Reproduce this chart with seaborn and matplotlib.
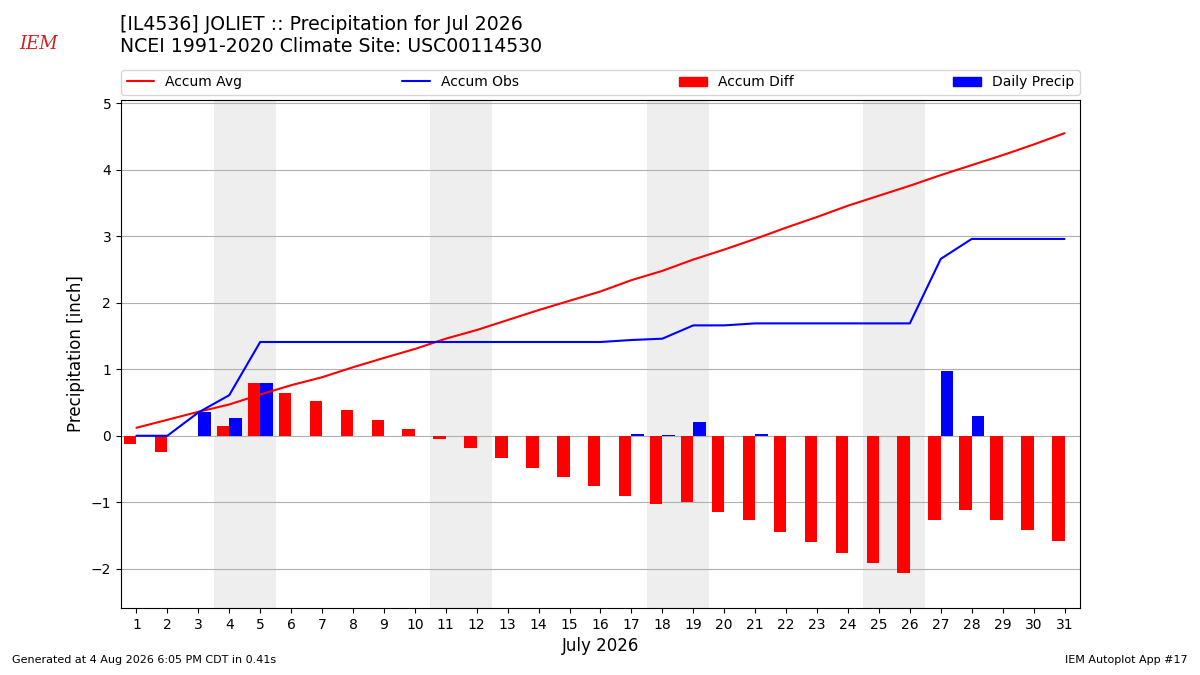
"""Monthly precipitation plot: accumulated average vs observed, daily bars."""

import datetime

import matplotlib

matplotlib.use("Agg")
import matplotlib.pyplot as plt
import pandas as pd
import seaborn as sns
from matplotlib.patches import Patch
from matplotlib.lines import Line2D

YEAR, MONTH = 2026, 7
days = list(range(1, 32))
accum_avg = [0.12, 0.24, 0.36, 0.47, 0.62, 0.76, 0.88, 1.03, 1.17, 1.305,
             1.46, 1.59, 1.74, 1.89, 2.03, 2.17, 2.34, 2.48, 2.65, 2.80,
             2.96, 3.13, 3.29, 3.46, 3.61, 3.76, 3.92, 4.07, 4.22, 4.38, 4.55]
accum_obs = [0.0, 0.0, 0.35, 0.61, 1.41, 1.41, 1.41, 1.41, 1.41, 1.41,
             1.41, 1.41, 1.41, 1.41, 1.41, 1.41, 1.44, 1.46, 1.66, 1.66,
             1.69, 1.69, 1.69, 1.69, 1.69, 1.69, 2.66, 2.96, 2.96, 2.96, 2.96]
accum_diff = [-0.12, -0.24, -0.01, 0.14, 0.79, 0.65, 0.53, 0.38, 0.24, 0.105,
              -0.05, -0.18, -0.33, -0.48, -0.62, -0.76, -0.90, -1.02, -0.99, -1.14,
              -1.27, -1.44, -1.60, -1.77, -1.92, -2.07, -1.26, -1.11, -1.26, -1.42, -1.59]
daily_precip = [0.0, 0.0, 0.35, 0.26, 0.80, 0.0, 0.0, 0.0, 0.0, 0.0,
                0.0, 0.0, 0.0, 0.0, 0.0, 0.0, 0.03, 0.015, 0.20, 0.0,
                0.03, 0.0, 0.0, 0.0, 0.0, 0.0, 0.97, 0.30, 0.0, 0.0, 0.0]

TITLE_1 = "[IL4536] JOLIET :: Precipitation for Jul 2026"
TITLE_2 = "NCEI 1991-2020 Climate Site: USC00114530"
FOOTER_LEFT = "Generated at 4 Aug 2026 6:05 PM CDT in 0.41s"
FOOTER_RIGHT = "IEM Autoplot App #17"

sns.set_style("ticks")
plt.rcParams["font.family"] = ["DejaVu Sans"]
plt.rcParams.update({
    "text.color": "black",
    "axes.labelcolor": "black",
    "xtick.color": "black",
    "ytick.color": "black",
})

fig = plt.figure(figsize=(12, 6.75), dpi=100)
ax = fig.add_axes([0.1008, 0.0993, 0.7992, 0.7526])

# weekend shading
for d in days:
    if datetime.date(YEAR, MONTH, d).weekday() == 5:
        ax.axvspan(d - 0.5, d + 1.5, color="#eeeeee", zorder=0, lw=0)

bars = pd.DataFrame({
    "day": days * 2,
    "value": accum_diff + daily_precip,
    "series": ["Accum Diff"] * len(days) + ["Daily Precip"] * len(days),
})
sns.barplot(data=bars, x="day", y="value", hue="series", native_scale=True,
            width=0.8, dodge=True, palette={"Accum Diff": "red", "Daily Precip": "blue"},
            saturation=1, errorbar=None, linewidth=0, legend=False, ax=ax, zorder=2)
sns.lineplot(x=days, y=accum_avg, color="red", lw=1.5, ax=ax, zorder=3)
sns.lineplot(x=days, y=accum_obs, color="blue", lw=1.5, ax=ax, zorder=3)

ax.set_xlim(0.5, 31.5)
ax.set_ylim(-2.59, 5.05)
ax.set_xticks(days)
ax.set_xticklabels([str(d) for d in days])
ax.set_yticks(range(-2, 6))
ax.set_yticklabels([f"\u2212{abs(v)}" if v < 0 else str(v) for v in range(-2, 6)])
ax.yaxis.grid(True, color="#b0b0b0", lw=0.8)
ax.xaxis.grid(False)
ax.set_axisbelow(True)
for s in ax.spines.values():
    s.set_visible(True)
    s.set_color("black")
    s.set_linewidth(0.8)
ax.tick_params(labelsize=10, length=3.5, width=0.8, colors="black")
ax.set_ylabel("Precipitation [inch]", fontsize=12)
ax.set_xlabel("July 2026", fontsize=12)

handles = [
    Line2D([], [], color="red", lw=1.5),
    Line2D([], [], color="blue", lw=1.5),
    Patch(color="red"),
    Patch(color="blue"),
]
ax.legend(handles, ["Accum Avg", "Accum Obs", "Accum Diff", "Daily Precip"],
          bbox_to_anchor=(0, 1.01, 1, 0.05), loc="lower left", ncol=4,
          mode="expand", borderaxespad=0, fontsize=10, frameon=True)

fig.text(0.1, 1 - 25 / 675, TITLE_1, fontsize=13.6, va="center", ha="left")
fig.text(0.1, 1 - 47 / 675, TITLE_2, fontsize=13.6, va="center", ha="left")
fig.text(0.032, 0.935, "IEM", fontsize=13, color="#d42020", family="serif",
         style="italic", ha="center", va="center")
fig.text(0.01, 0.015, FOOTER_LEFT, fontsize=8, ha="left", va="bottom")
fig.text(0.99, 0.015, FOOTER_RIGHT, fontsize=8, ha="right", va="bottom")

fig.savefig("out.png", dpi=100)
